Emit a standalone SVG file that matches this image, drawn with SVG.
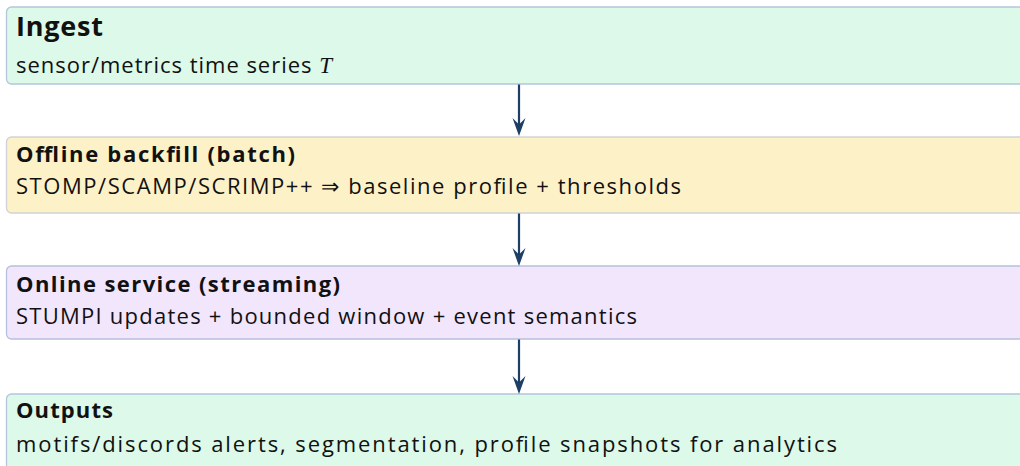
<svg xmlns="http://www.w3.org/2000/svg" width="1020" height="466" viewBox="0 0 1020 466">
  <defs>
    <style>
      .box { stroke-width: 1.3; }
      .green { fill: #dcf9e9; stroke: #b3c6dc; }
      .yellow { fill: #fdf1c8; stroke: #cfd2d6; }
      .violet { fill: #f2e6fd; stroke: #b7c0dc; }
      .title { font-family: "Open Sans", "Noto Sans", sans-serif; font-weight: 700; fill: #111; font-size: 22px; }
      .big { font-size: 27px; }
      .body { font-family: "Open Sans", "Noto Sans", sans-serif; font-size: 22px; fill: #111; }
      .math { font-family: "Liberation Serif", serif; font-style: italic; font-size: 23px; }
      .edge { stroke: #1d3f66; stroke-width: 2.2; fill: none; }
      .head { fill: #1d3f66; }
    </style>
  </defs>

  <!-- stage: ingest -->
  <g id="ingest">
    <rect class="box green" x="6.5" y="7" width="1030" height="77" rx="5"/>
    <text class="title big" x="16" y="36" textLength="87" lengthAdjust="spacing">Ingest</text>
    <text class="body" x="16" y="73" textLength="316" lengthAdjust="spacing">sensor/metrics time series <tspan class="math">T</tspan></text>
  </g>

  <!-- stage: offline backfill -->
  <g id="offline">
    <rect class="box yellow" x="6.5" y="137" width="1030" height="76" rx="5"/>
    <text class="title" x="16" y="162" textLength="279" lengthAdjust="spacing">Offline backfill (batch)</text>
    <text class="body" x="16" y="194" textLength="665" lengthAdjust="spacing">STOMP/SCAMP/SCRIMP++ ⇒ baseline profile + thresholds</text>
  </g>

  <!-- stage: online service -->
  <g id="online">
    <rect class="box violet" x="6.5" y="266" width="1030" height="73" rx="5"/>
    <text class="title" x="16" y="292" textLength="324" lengthAdjust="spacing">Online service (streaming)</text>
    <text class="body" x="16" y="324" textLength="621" lengthAdjust="spacing">STUMPI updates + bounded window + event semantics</text>
  </g>

  <!-- stage: outputs -->
  <g id="outputs">
    <rect class="box green" x="6.5" y="394" width="1030" height="80" rx="5"/>
    <text class="title" x="16" y="418" textLength="97" lengthAdjust="spacing">Outputs</text>
    <text class="body" x="16" y="452" textLength="821" lengthAdjust="spacing">motifs/discords alerts, segmentation, profile snapshots for analytics</text>
  </g>

  <!-- pipeline arrows -->
  <g id="connectors">
    <line class="edge" x1="519" y1="84.5" x2="519" y2="126"/>
    <path class="head" d="M519 136 L512.5 118 L519 124.5 L525.5 118 Z"/>
    <line class="edge" x1="519" y1="213.5" x2="519" y2="256"/>
    <path class="head" d="M519 266 L512.5 248 L519 254.5 L525.5 248 Z"/>
    <line class="edge" x1="519" y1="339.5" x2="519" y2="384"/>
    <path class="head" d="M519 394 L512.5 376 L519 382.5 L525.5 376 Z"/>
  </g>
</svg>
